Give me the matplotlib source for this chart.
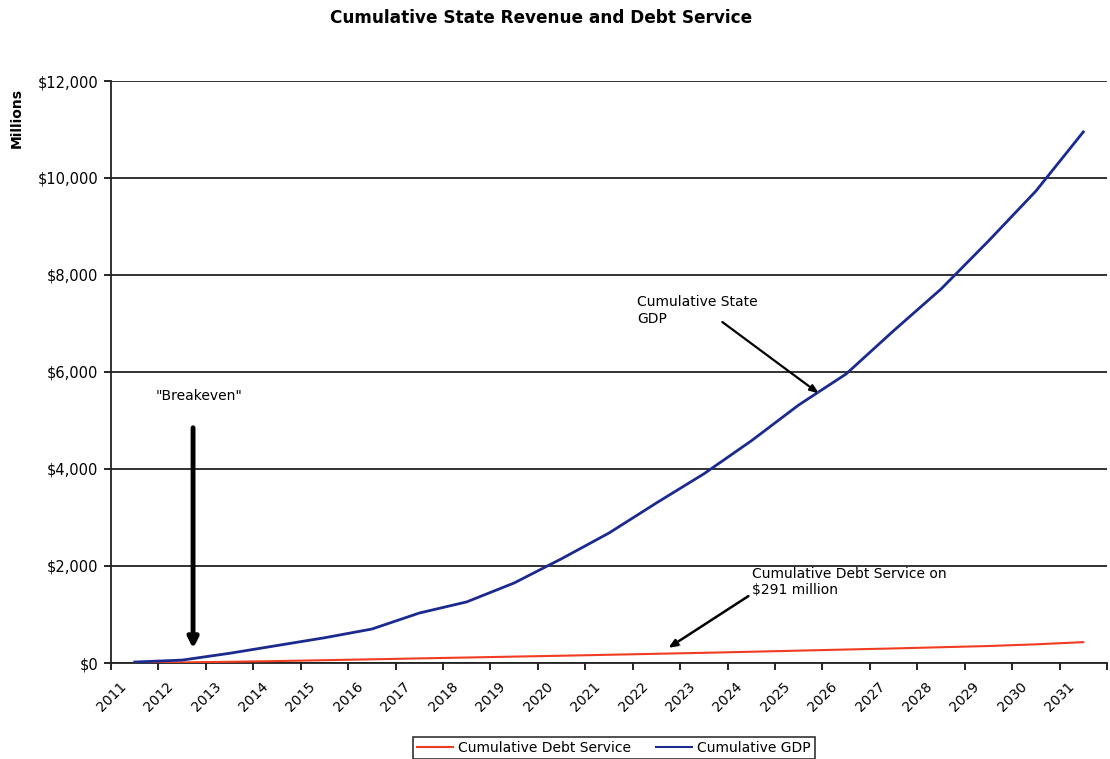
import matplotlib
matplotlib.use("Agg")
import matplotlib.pyplot as plt
import matplotlib.patheffects as pe
import matplotlib.transforms as mtransforms
from matplotlib.ticker import FixedLocator, FuncFormatter

plt.rcParams['font.family'] = ['DejaVu Sans']

years = [str(y) for y in range(2011, 2032)]
cumulative_gdp = [20, 60, 200, 360, 520, 700, 1030, 1260, 1650, 2150, 2680,
                  3300, 3900, 4580, 5320, 5960, 6850, 7710, 8700, 9730, 10950]
cumulative_debt_service = [3, 12, 25, 40, 58, 76, 95, 113, 132, 150, 170,
                           190, 210, 232, 255, 278, 300, 325, 350, 385, 430]
y_ticks = [0, 2000, 4000, 6000, 8000, 10000, 12000]

fig = plt.figure(figsize=(11.1, 7.59), dpi=100)
ax = fig.add_axes([111 / 1110, 1 - 663 / 759, (1107 - 111) / 1110, (663 - 81) / 759])

x = list(range(len(years)))
ax.plot(x, cumulative_debt_service, color='#f23c22', lw=1.5, label='Cumulative Debt Service', zorder=3)
ax.plot(x, cumulative_gdp, color='#1a2a8e', lw=2.0, label='Cumulative GDP', zorder=4)

ax.set_xlim(-0.5, len(years) - 0.5)
ax.set_ylim(0, 12000)

# category boundaries carry the tick marks, labels sit at category centres
ax.xaxis.set_major_locator(FixedLocator([i - 0.5 for i in range(len(years) + 1)]))
ax.xaxis.set_major_formatter(FuncFormatter(lambda v, p: ''))
ax.set_xticks(x, minor=True)
ax.set_xticklabels(years, minor=True, rotation=45, ha='right', va='top', fontsize=10)
ax.tick_params(axis='x', which='minor', length=0, pad=12)
ax.tick_params(axis='x', which='major', length=5, width=1.2, direction='out', color='black')
shift = mtransforms.ScaledTranslation(-6 / 100, 0, fig.dpi_scale_trans)
for lbl in ax.get_xticklabels(minor=True):
    lbl.set_transform(lbl.get_transform() + shift)

ax.set_yticks(y_ticks)
ax.yaxis.set_major_formatter(FuncFormatter(lambda v, p: '${:,.0f}'.format(v)))
ax.tick_params(axis='y', length=5, width=1.2, direction='out', labelsize=10.5, pad=4)

ax.grid(axis='y', color='#222222', lw=1.3)
ax.set_axisbelow(True)
for side in ('top', 'right'):
    ax.spines[side].set_visible(False)
for side in ('left', 'bottom'):
    ax.spines[side].set_linewidth(1.3)
    ax.spines[side].set_color('#222222')

fig.text(541 / 1110, 1 - 18 / 759, 'Cumulative State Revenue and Debt Service',
         ha='center', va='center', fontsize=12.2, fontweight='bold')
fig.text(17 / 1110, 1 - 118 / 759, 'Millions', rotation=90, ha='center', va='center',
         fontsize=10, fontweight='bold')

shadow = [pe.SimplePatchShadow(offset=(2, -1), shadow_rgbFace='#999999', alpha=0.6), pe.Normal()]

ax.text(1.36, 5500, '"Breakeven"', ha='center', va='center', fontsize=10, zorder=6)
ax.annotate('', xy=(1.23, 300), xytext=(1.23, 4850),
            arrowprops=dict(arrowstyle='-|>,head_length=0.6,head_width=0.3', color='black',
                            lw=3.5, shrinkA=0, shrinkB=0, path_effects=shadow), zorder=6)

ax.text(10.6, 7590, 'Cumulative State\nGDP', ha='left', va='top', fontsize=10,
        linespacing=1.25, zorder=6)
ax.annotate('', xy=(14.42, 5560), xytext=(12.39, 7030),
            arrowprops=dict(arrowstyle='-|>,head_length=0.5,head_width=0.2', color='black',
                            lw=1.6, shrinkA=0, shrinkB=0, path_effects=shadow), zorder=6)

ax.text(13.02, 1980, 'Cumulative Debt Service on\n$291 million', ha='left', va='top',
        fontsize=10, linespacing=1.15, zorder=6)
ax.annotate('', xy=(11.25, 310), xytext=(12.94, 1380),
            arrowprops=dict(arrowstyle='-|>,head_length=0.5,head_width=0.2', color='black',
                            lw=1.8, shrinkA=0, shrinkB=0, path_effects=shadow), zorder=6)

leg = fig.legend(loc='upper center', bbox_to_anchor=(614 / 1110, 1 - 737 / 759), ncol=2,
                 fontsize=10, frameon=True, fancybox=False, edgecolor='black',
                 handlelength=2.6, columnspacing=1.8, borderpad=0.3, borderaxespad=0,
                 handletextpad=0.35)
leg.get_frame().set_linewidth(1.2)
for h in leg.get_lines():
    h.set_linewidth(1.5)

fig.savefig('out.png', dpi=100)
